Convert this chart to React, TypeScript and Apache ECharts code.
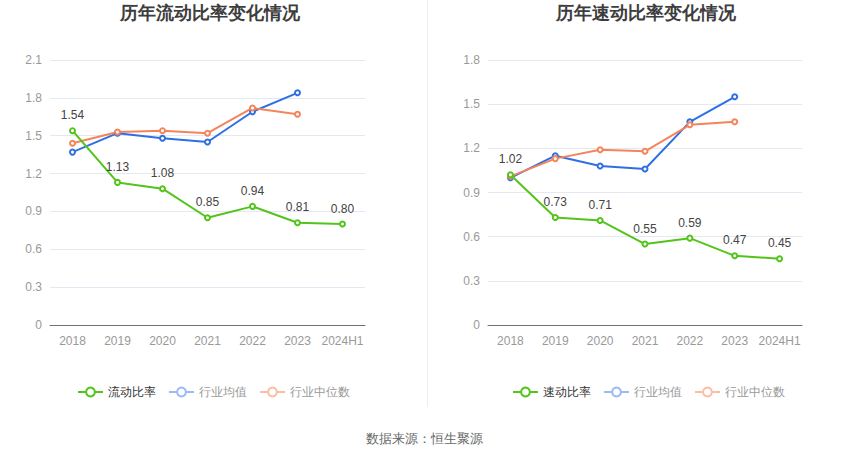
import React, { useEffect, useRef } from "react";
import * as echarts from "echarts";

const categories = ["2018", "2019", "2020", "2021", "2022", "2023", "2024H1"];
const yAxisTicksLeft = { max: 2.1, interval: 0.3 };
const yAxisTicksRight = { max: 1.8, interval: 0.3 };

const currentRatio = [1.54, 1.13, 1.08, 0.85, 0.94, 0.81, 0.8];
const currentMean = [1.37, 1.52, 1.48, 1.45, 1.69, 1.84, null];
const currentMedian = [1.44, 1.53, 1.54, 1.52, 1.72, 1.67, null];

const quickRatio = [1.02, 0.73, 0.71, 0.55, 0.59, 0.47, 0.45];
const quickMean = [1.0, 1.15, 1.08, 1.06, 1.38, 1.55, null];
const quickMedian = [1.01, 1.13, 1.19, 1.18, 1.36, 1.38, null];

const titles = ["历年流动比率变化情况", "历年速动比率变化情况"];
const mainNames = ["流动比率", "速动比率"];
const meanName = "行业均值";
const medianName = "行业中位数";
const sourceText = "数据来源：恒生聚源";

const GREEN = "#52c41a";
const BLUE = "#2f6fe4";
const ORANGE = "#f5845a";
const BLUE_LIGHT = "#9dbaf5";
const ORANGE_LIGHT = "#fbbda4";

export default function App() {
  const ref = useRef<HTMLDivElement>(null);
  useEffect(() => {
    if (!ref.current) return;
    const chart = echarts.init(ref.current, undefined, { renderer: "svg" });
    const grids = [
      { left: 50, width: 315, top: 60, height: 265 },
      { left: 488, width: 314, top: 60, height: 265 },
    ];
    const titleCenters = [205, 641];
    const legendLefts = [72, 507];
    const mkLegend = (i: number) => ({
      top: 381,
      left: legendLefts[i],
      itemWidth: 25,
      itemHeight: 11,
      itemGap: 12,
      textStyle: { fontSize: 12, color: "#999" },
      data: [
        { name: mainNames[i], textStyle: { color: "#333" } },
        {
          name: meanName,
          itemStyle: { color: BLUE_LIGHT, borderColor: BLUE_LIGHT },
          lineStyle: { color: BLUE_LIGHT, width: 2, type: "solid" },
        },
        {
          name: medianName,
          itemStyle: { color: ORANGE_LIGHT, borderColor: ORANGE_LIGHT },
          lineStyle: { color: ORANGE_LIGHT, width: 2, type: "solid" },
        },
      ],
    });
    const mkSeries = (i: number, name: string, data: any[], color: string, label: boolean) => ({
      type: "line",
      name,
      xAxisIndex: i,
      yAxisIndex: i,
      data,
      symbol: "emptyCircle",
      symbolSize: 5,
      color,
      lineStyle: { width: 2, color },
      itemStyle: { color, borderWidth: 2 },
      label: label
        ? {
            show: true,
            position: "top",
            distance: 6,
            fontSize: 12,
            color: "#444",
            formatter: (p: any) => Number(p.value).toFixed(2),
          }
        : { show: false },
      z: label ? 3 : 2,
    });
    const yTicks = [yAxisTicksLeft, yAxisTicksRight];
    chart.setOption({
      animation: false,
      title: titles.map((t, i) => ({
        text: t,
        left: titleCenters[i],
        textAlign: "center",
        top: -1,
        textStyle: { fontSize: 18, fontWeight: "bold", color: "#3d3d3d" },
      })),
      legend: [0, 1].map((i) => mkLegend(i)),
      grid: grids,
      xAxis: [0, 1].map((i) => ({
        type: "category",
        gridIndex: i,
        data: categories,
        boundaryGap: true,
        axisTick: { alignWithLabel: true, lineStyle: { color: "#6e7079" } },
        axisLine: { lineStyle: { color: "#6e7079" } },
        axisLabel: { color: "#999", fontSize: 12, margin: 10, interval: 0 },
      })),
      yAxis: [0, 1].map((i) => ({
        type: "value",
        gridIndex: i,
        min: 0,
        max: yTicks[i].max,
        interval: yTicks[i].interval,
        axisLine: { show: false },
        axisTick: { show: false },
        axisLabel: { color: "#999", fontSize: 12, margin: 8 },
        splitLine: { lineStyle: { color: "#e3e8f3" } },
      })),
      series: [
        mkSeries(0, mainNames[0], currentRatio, GREEN, true),
        mkSeries(0, meanName, currentMean, BLUE, false),
        mkSeries(0, medianName, currentMedian, ORANGE, false),
        mkSeries(1, mainNames[1], quickRatio, GREEN, true),
        mkSeries(1, meanName, quickMean, BLUE, false),
        mkSeries(1, medianName, quickMedian, ORANGE, false),
      ],
      graphic: [
        {
          type: "line",
          shape: { x1: 427.5, y1: 0, x2: 427.5, y2: 407 },
          style: { stroke: "#eeeeee", lineWidth: 1 },
        },
        {
          type: "text",
          x: 424,
          y: 438,
          style: {
            text: sourceText,
            fontSize: 13,
            fill: "#666",
            textAlign: "center",
            textVerticalAlign: "middle",
          },
        },
      ],
    });
    return () => chart.dispose();
  }, []);
  return (
    <div
      ref={ref}
      style={{ position: "absolute", left: 0, top: 0, width: 850, height: 459, background: "#fff" }}
    />
  );
}
